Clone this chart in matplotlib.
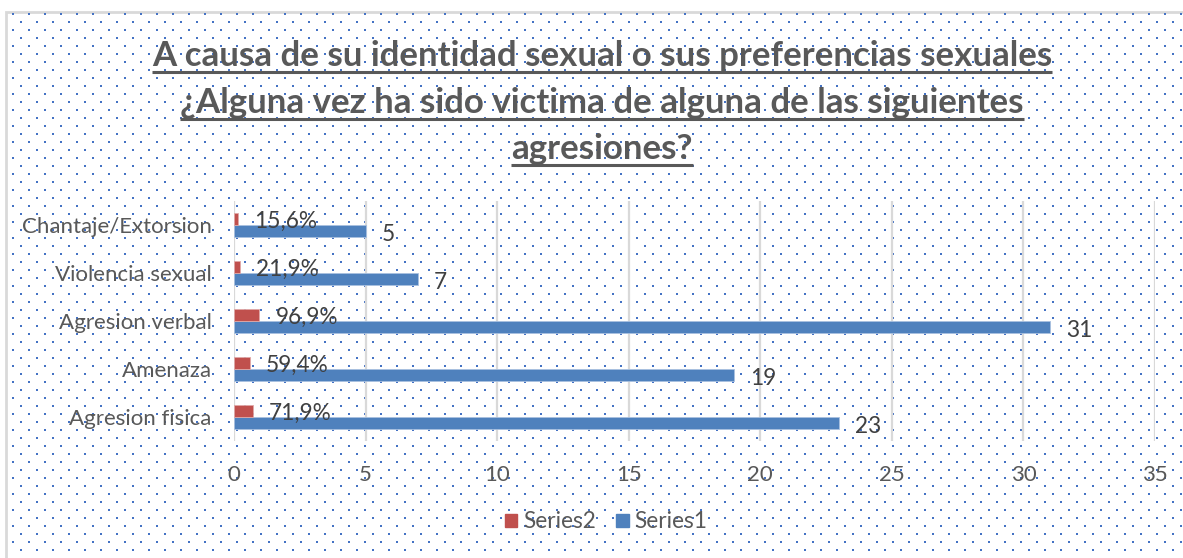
import matplotlib.pyplot as plt
import numpy as np
from matplotlib.patches import Patch, Rectangle

categories = ["Agresion fisica", "Amenaza", "Agresion verbal", "Violencia sexual", "Chantaje/Extorsion"]
series1 = [23, 19, 31, 7, 5]
series2 = [0.719, 0.594, 0.969, 0.219, 0.156]
series1_labels = ["23", "19", "31", "7", "5"]
series2_labels = ["71,9%", "59,4%", "96,9%", "21,9%", "15,6%"]
x_ticks = [0, 5, 10, 15, 20, 25, 30, 35]
title_lines = [
    "A causa de su identidad sexual o sus preferencias sexuales",
    "¿Alguna vez ha sido victima de alguna de las siguientes",
    "agresiones?",
]

W, H = 1183, 558
BLUE = "#4F81BD"
RED = "#C0504D"
TEXT = "#595959"
LABEL = "#404040"
FONT = "Lato"

plt.rcParams["font.family"] = [FONT, "DejaVu Sans"]

fig = plt.figure(figsize=(W / 100, H / 100), dpi=100)

# background: chart area with dotted pattern, in pixel coordinates
bg = fig.add_axes([0, 0, 1, 1], zorder=0)
bg.set_xlim(0, W)
bg.set_ylim(H, 0)
bg.axis("off")
bg.add_patch(Rectangle((6.5, 11.5), W + 10, H, facecolor="white",
                       edgecolor="#D9D9D9", linewidth=2))
rows = np.arange(14, H, 8)
dx, dy = [], []
for i, yy in enumerate(rows):
    start = 13 if i % 2 == 0 else 21
    xs = np.arange(start, W, 16)
    dx.extend(xs)
    dy.extend([yy] * len(xs))
bg.scatter(dx, dy, marker="s", s=2.2, color="#4472C4", linewidths=0)

# title with underline
baselines = [66, 113, 159]
title_texts = []
for line, yb in zip(title_lines, baselines):
    t = bg.text(602, yb, line, ha="center", va="baseline", fontsize=25.1,
                fontweight="bold", color=TEXT, family=FONT)
    title_texts.append(t)

# main plot
ax = fig.add_axes([234 / W, 1 - 441 / H, 921 / W, 240 / H], zorder=1)
ax.patch.set_alpha(0)
y = np.arange(len(categories))
h = 0.26
ax.barh(y - h / 2, series1, height=h, color=BLUE, edgecolor="#A9C1E0", linewidth=0.6, zorder=3)
ax.barh(y + h / 2, series2, height=h, color=RED, edgecolor="#E0A9A8", linewidth=0.6, zorder=3)

for yi, v, lab in zip(y, series1, series1_labels):
    ax.annotate(lab, (v, yi - h / 2), xytext=(11.5, -2), textcoords="offset points",
                ha="left", va="center", fontsize=16.3, color=LABEL)
for yi, v, lab in zip(y, series2, series2_labels):
    ax.annotate(lab, (v, yi + h / 2), xytext=(11.5, -2), textcoords="offset points",
                ha="left", va="center", fontsize=16.3, color=LABEL)

ax.set_xlim(0, 35)
ax.set_ylim(-0.5, len(categories) - 0.5)
ax.set_xticks(x_ticks)
ax.set_yticks(y)
ax.set_yticklabels(categories)
ax.tick_params(axis="both", length=0, labelsize=16, labelcolor=TEXT)
ax.tick_params(axis="y", pad=16)
ax.tick_params(axis="x", pad=17)
ax.grid(True, axis="x", color="#D9D9D9", linewidth=1.6, zorder=0)
ax.set_axisbelow(True)
for s in ax.spines.values():
    s.set_visible(False)

fig.legend(
    handles=[Patch(color=RED, label="Series2"), Patch(color=BLUE, label="Series1")],
    loc="center", bbox_to_anchor=(606 / W, 1 - 522 / H), ncol=2, frameon=False,
    fontsize=16.3, handlelength=0.55, handleheight=0.55, handletextpad=0.25,
    columnspacing=0.9, labelcolor=TEXT,
)

# underline each title line
fig.canvas.draw()
renderer = fig.canvas.get_renderer()
inv = bg.transData.inverted()
for t, yb in zip(title_texts, baselines):
    bb = t.get_window_extent(renderer)
    x0, _ = inv.transform((bb.x0, bb.y0))
    x1, _ = inv.transform((bb.x1, bb.y0))
    bg.plot([x0, x1], [yb + 6, yb + 6], color=TEXT, linewidth=2.2, solid_capstyle="butt")

fig.savefig("out.png", dpi=100)
